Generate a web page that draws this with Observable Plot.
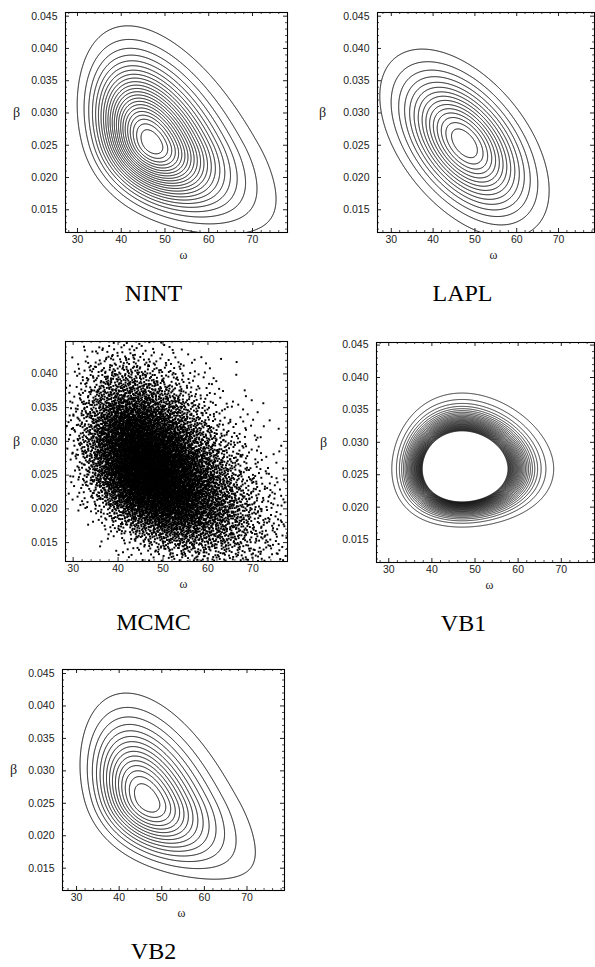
<!DOCTYPE html>
<html><head><meta charset="utf-8">
<script src="https://cdn.jsdelivr.net/npm/d3@7"></script>
<script src="https://cdn.jsdelivr.net/npm/@observablehq/plot@0.6"></script>
<style>
body{margin:0;background:#fff;}
#page{position:relative;width:595px;height:967px;overflow:hidden;background:#fff;}
#page svg{position:absolute;overflow:visible;background:transparent;}
</style></head><body><div id="page"></div>
<script>
// ---------- data ----------
const panelTitles = ["NINT", "LAPL", "MCMC", "VB1", "VB2"];
const xAxisLabel = "ω";
const yAxisLabel = "β";
const xTicks = [30, 40, 50, 60, 70];
const xMinorTicks = [28, 32, 34, 36, 38, 42, 44, 46, 48, 52, 54, 56, 58, 62, 64, 66, 68, 72, 74, 76, 78];
const yTicks = [0.015, 0.020, 0.025, 0.030, 0.035, 0.040, 0.045];
const yMinorTicks = [0.012, 0.013, 0.014, 0.016, 0.017, 0.018, 0.019, 0.021, 0.022, 0.023, 0.024,
  0.026, 0.027, 0.028, 0.029, 0.031, 0.032, 0.033, 0.034, 0.036, 0.037, 0.038, 0.039,
  0.041, 0.042, 0.043, 0.044];
// axis ranges of each panel
const xRanges = [[27.26, 78.0], [26.7, 78.6], [28.3, 77.7], [27.16, 77.7], [26.7, 78.8]];
const yRanges = [[0.01148, 0.04557], [0.01148, 0.04557], [0.0122, 0.0448], [0.01146, 0.0454], [0.01156, 0.04562]];
// posterior shapes:
// ridge ω(β) = A / (1 - exp(-βT) + b), β mode, β spread above / below, log-ω spread
const nintShape = [52.5, 59, 0.342, 0.0253, 0.00722, 0.0056, 0.165];
const vb2Shape  = [40, 77, 0, 0.0255, 0.0070, 0.00518, 0.161];
const laplGaussian = [47.5, 0.0253, 8.6, 0.0062, -0.5]; // mean ω, mean β, sd ω, sd β, rho
const vb1Gamma     = [47, 0.0259, 60];                   // mode ω, mode β, shape
const contourCounts = [23, 15, 0, 30, 15];
const vb1LevelStep  = 0.00874;
const mcmcDraws     = 52000;

// ---------- densities ----------
function ridgeDensity(p) {
  const [A, T, k, mb, su, sd, s] = p;
  return (w, b) => {
    const m = A / (1 - Math.exp(-b * T) + k);
    const zb = (b - mb) / (b > mb ? su : sd);
    const zw = (Math.log(w) - Math.log(m)) / s;
    return Math.exp(-0.5 * (zb * zb + zw * zw));
  };
}
const nintDens = ridgeDensity(nintShape);
const vb2Dens = ridgeDensity(vb2Shape);
const laplDens = (w, b) => {
  const [mx, my, sx, sy, r] = laplGaussian;
  const zx = (w - mx) / sx, zy = (b - my) / sy;
  return Math.exp(-(zx * zx - 2 * r * zx * zy + zy * zy) / (2 * (1 - r * r)));
};
const vb1Dens = (w, b) => {
  const [mw, mb, A] = vb1Gamma;
  const u = w / mw, v = b / mb;
  return Math.exp(A * (Math.log(u) - u + 1) + A * (Math.log(v) - v + 1));
};
const fracLevels = n => d3.range(1, n + 1).map(k => k / (n + 1));

// MCMC draws: deterministic low-discrepancy acceptance sampling of the NINT posterior
function halton(i, base) { let f = 1, r = 0; while (i > 0) { f /= base; r += f * (i % base); i = Math.floor(i / base); } return r; }
const mcmcPoints = [];
{
  const [x0, x1] = xRanges[2], [y0, y1] = yRanges[2];
  for (let i = 1; i <= mcmcDraws; i++) {
    const w = x0 + (x1 - x0) * halton(i, 2), b = y0 + (y1 - y0) * halton(i, 3);
    if (halton(i, 5) < nintDens(w, b)) mcmcPoints.push({w, b});
  }
}

// ---------- layout ----------
const cells = [
  {cx: 0,   cy: 0,   cw: 300, frame: [65, 12, 287, 232],  titleX: 153, betaX: 16,  omegaX: 183},
  {cx: 300, cy: 0,   cw: 295, frame: [377, 12, 594, 232], titleX: 462, betaX: 322, omegaX: 493},
  {cx: 0,   cy: 329, cw: 300, frame: [65, 341, 287, 561], titleX: 153, betaX: 16,  omegaX: 183},
  {cx: 300, cy: 329, cw: 295, frame: [376, 342, 594, 562], titleX: 463, betaX: 323, omegaX: 489},
  {cx: 0,   cy: 657, cw: 300, frame: [62, 669, 284, 890], titleX: 153, betaX: 13,  omegaX: 181}
];

function panelMarks(i) {
  const [x0, x1] = xRanges[i], [y0, y1] = yRanges[i];
  // sample a little beyond the frame so that cut contours stay open at the frame edge
  const ex = (x1 - x0) * 0.08, ey = (y1 - y0) * 0.08;
  const opts = {x1: x0 - ex, x2: x1 + ex, y1: y0 - ey, y2: y1 + ey, stroke: "black", fill: "none", strokeWidth: 0.95, pixelSize: 0.5, clip: true};
  if (i === 0) return [Plot.contour({...opts, value: nintDens, thresholds: fracLevels(contourCounts[0])})];
  if (i === 1) return [Plot.contour({...opts, value: laplDens, thresholds: fracLevels(contourCounts[1])})];
  if (i === 2) return [Plot.dot(mcmcPoints, {x: "w", y: "b", r: 1.1, symbol: "square", fill: "black", clip: true})];
  if (i === 3) return [Plot.contour({...opts, strokeWidth: 0.8, value: vb1Dens, thresholds: d3.range(1, contourCounts[3] + 1).map(k => k * vb1LevelStep)})];
  return [Plot.contour({...opts, value: vb2Dens, thresholds: fracLevels(contourCounts[4])})];
}

const page = document.getElementById("page");
cells.forEach((c, i) => {
  const [fl, ft, fr, fb] = c.frame;
  const H = 310;
  const w = fr - fl, h = fb - ft;
  const [x0, x1] = xRanges[i], [y0, y1] = yRanges[i];
  const ux = (x1 - x0) / w, uy = (y1 - y0) / h;
  const inX = t => t >= x0 && t <= x1, inY = t => t >= y0 && t <= y1;
  const xs = xTicks.filter(inX), ys = yTicks.filter(inY);
  const xm = xMinorTicks.filter(inX), ym = yMinorTicks.filter(inY);
  const ticks = (xv, yv, len, sw) => [
    Plot.ruleX(xv, {x: d => d, y1: y0, y2: y0 + len * uy, strokeWidth: sw}),
    Plot.ruleX(xv, {x: d => d, y1: y1, y2: y1 - len * uy, strokeWidth: sw}),
    Plot.ruleY(yv, {y: d => d, x1: x0, x2: x0 + len * ux, strokeWidth: sw}),
    Plot.ruleY(yv, {y: d => d, x1: x1, x2: x1 - len * ux, strokeWidth: sw})
  ];
  const svg = Plot.plot({
    width: c.cw, height: H,
    marginLeft: fl - c.cx, marginRight: c.cx + c.cw - fr,
    marginTop: ft - c.cy, marginBottom: c.cy + H - fb,
    style: {fontFamily: "'Liberation Sans', Arial, sans-serif", fontSize: "10.5px", color: "#222", background: "transparent"},
    x: {domain: xRanges[i], label: null},
    y: {domain: yRanges[i], label: null},
    marks: [
      ...panelMarks(i),
      ...ticks(xs, ys, 4, 1),
      ...ticks(xm, ym, 2, 0.8),
      Plot.frame({stroke: "black", strokeWidth: 1.1}),
      Plot.axisX(xs, {tickSize: 0, tickPadding: 3, tickFormat: d3.format("d"), label: null, fill: "#222"}),
      Plot.axisY(ys, {tickSize: 0, tickPadding: 8, tickFormat: d3.format(".3f"), label: null, fill: "#222"}),
      Plot.text([yAxisLabel], {text: d => d, frameAnchor: "left", dx: c.betaX - fl, dy: -10, fontSize: 14, fontFamily: "'Liberation Serif', 'DejaVu Serif', serif", textAnchor: "middle", fill: "#222"}),
      Plot.text([xAxisLabel], {text: d => d, frameAnchor: "bottom-left", dx: c.omegaX - fl, dy: 26, fontSize: 12, fontFamily: "'Liberation Serif', 'DejaVu Serif', serif", textAnchor: "middle", fill: "#222"}),
      Plot.text([panelTitles[i]], {text: d => d, frameAnchor: "bottom-left", dx: c.titleX - fl, dy: 61, fontSize: 24, fontFamily: "'Liberation Serif', 'Times New Roman', serif", textAnchor: "middle", lineAnchor: "middle", fill: "black"})
    ]
  });
  svg.style.left = c.cx + "px";
  svg.style.top = c.cy + "px";
  page.appendChild(svg);
});
</script></body></html>
